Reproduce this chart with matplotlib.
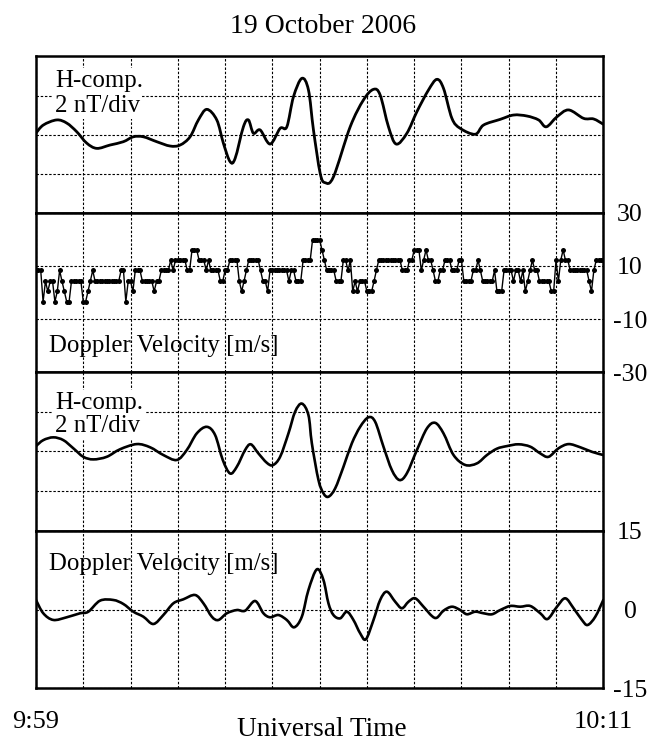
import numpy as np
import matplotlib
matplotlib.use('Agg')
import matplotlib.pyplot as plt
from matplotlib.path import Path
from matplotlib.patches import PathPatch

plt.rcParams['font.family'] = ['Liberation Serif', 'DejaVu Serif']
plt.rcParams['axes.unicode_minus'] = False

# ---------------- data (time in minutes after 09:59 UT) ----------------
h_raw_t = [0.0, 0.155, 0.438, 0.650, 0.861, 1.072, 1.285, 1.566, 1.848, 2.059,
           2.271, 2.554, 2.836, 3.048, 3.259, 3.435, 3.613, 3.824, 3.964, 4.106,
           4.212, 4.387, 4.493, 4.599, 4.741, 4.952, 5.164, 5.306, 5.446, 5.623,
           5.763, 5.869, 6.011, 6.116, 6.292, 6.646, 6.927, 7.139, 7.280, 7.456,
           7.619, 7.845, 8.057, 8.303, 8.480, 8.620, 8.798, 8.974, 9.291, 9.467,
           9.820, 10.102, 10.385, 10.631, 10.794, 11.020, 11.266, 11.583, 11.795, 12.0]
h_raw_v = [0.10, 0.51, 0.77, 0.61, 0.17, -0.41, -0.68, -0.51, -0.34, -0.09,
           -0.09, -0.34, -0.56, -0.51, -0.09, 0.77, 1.31, 0.77, -0.42, -1.36,
           -1.19, 0.42, 0.77, 0.09, 0.26, -0.46, 0.34, 0.42, 1.95, 2.89,
           2.30, 0.26, -1.95, -2.43, -2.13, 0.42, 1.79, 2.33, 2.04, 0.42,
           -0.46, 0.09, 1.19, 2.30, 2.84, 2.38, 0.85, 0.34, 0.04, 0.51,
           0.80, 1.02, 0.97, 0.77, 0.42, 0.93, 1.28, 0.85, 0.82, 0.55]

# Doppler raw samples every 3 s
dop_raw_t = np.arange(241) * 0.05
dop_raw_v = [8.3, 8.3, 8.3, -3.5, 4.2, 0.4, 4.2, 4.2, -3.5, 0.4, 8.3, 4.2, 0.4, -3.5, -3.5, 4.2, 4.2, 4.2, 4.2, 4.2,
             -3.5, -3.5, 0.4, 4.2, 8.3, 4.2, 4.2, 4.2, 4.2, 4.2, 4.2, 4.2, 4.2, 4.2, 4.2, 4.2, 8.3, 8.3, -3.5, 4.2,
             4.2, 0.4, 8.3, 8.3, 8.3, 4.2, 4.2, 4.2, 4.2, 4.2, 0.4, 4.2, 4.2, 8.3, 8.3, 8.3, 8.3, 12.1, 8.3, 12.1,
             12.1, 12.1, 12.1, 12.1, 8.3, 8.3, 16.0, 16.0, 16.0, 12.1, 12.1, 12.1, 8.3, 12.1, 8.3, 8.3, 8.3, 8.3, 4.2, 4.2,
             8.3, 8.3, 12.1, 12.1, 12.1, 12.1, 4.2, 0.4, 4.2, 8.3, 12.1, 12.1, 12.1, 12.1, 12.1, 8.3, 4.2, 4.2, 0.4, 8.3,
             8.3, 8.3, 8.3, 8.3, 8.3, 8.3, 8.3, 4.2, 8.3, 8.3, 4.2, 4.2, 4.2, 12.1, 12.1, 12.1, 12.1, 19.8, 19.8, 19.8,
             19.8, 16.0, 12.1, 8.3, 8.3, 8.3, 8.3, 4.2, 4.2, 4.2, 12.1, 12.1, 8.3, 12.1, 0.4, 4.2, 0.4, 4.2, 4.2, 4.2,
             0.4, 0.4, 0.4, 4.2, 8.3, 12.1, 12.1, 12.1, 12.1, 12.1, 12.1, 12.1, 12.1, 12.1, 12.1, 8.3, 8.3, 8.3, 12.1, 12.1,
             16.0, 16.0, 16.0, 8.3, 12.1, 16.0, 12.1, 12.1, 8.3, 4.2, 4.2, 8.3, 8.3, 12.1, 12.1, 12.1, 8.3, 8.3, 8.3, 12.1,
             12.1, 4.2, 4.2, 4.2, 4.2, 8.3, 8.3, 12.1, 8.3, 4.2, 4.2, 4.2, 4.2, 4.2, 8.3, 0.4, 0.4, 0.4, 8.3, 8.3,
             8.3, 8.3, 4.2, 8.3, 8.3, 4.2, 8.3, 0.4, 4.2, 8.3, 12.1, 8.3, 8.3, 4.2, 4.2, 4.2, 4.2, 4.2, 0.4, 0.4,
             12.1, 4.2, 12.1, 16.0, 12.1, 12.1, 8.3, 8.3, 8.3, 8.3, 8.3, 8.3, 8.3, 8.3, 4.2, 0.4, 8.3, 12.1, 12.1, 12.1,
             12.1]

h_flt_t = [0.0, 0.154, 0.366, 0.578, 0.789, 1.001, 1.213, 1.496, 1.778, 2.131,
           2.413, 2.694, 2.978, 3.189, 3.401, 3.613, 3.788, 3.951, 4.106, 4.248,
           4.423, 4.544, 4.705, 4.882, 5.010, 5.164, 5.340, 5.481, 5.623, 5.763,
           5.835, 5.975, 6.081, 6.186, 6.328, 6.504, 6.681, 6.857, 7.033, 7.175,
           7.350, 7.528, 7.689, 7.845, 8.057, 8.269, 8.444, 8.620, 8.832, 9.079,
           9.327, 9.539, 9.750, 9.962, 10.207, 10.455, 10.667, 10.842, 11.054, 11.266,
           11.513, 11.761, 12.0]
h_flt_v = [0.26, 0.56, 0.70, 0.56, 0.15, -0.28, -0.41, -0.28, 0.10, 0.36,
           0.20, -0.19, -0.44, 0.06, 0.90, 1.23, 0.82, -0.44, -1.12, -0.78,
           0.06, 0.35, -0.11, -0.58, -0.70, -0.28, 0.90, 1.99, 2.40, 1.82,
           0.40, -1.45, -2.12, -2.29, -1.87, -0.78, 0.40, 1.23, 1.71, 1.48,
           0.23, -0.95, -1.45, -1.11, 0.06, 1.15, 1.43, 0.90, -0.19, -0.69,
           -0.61, -0.19, 0.13, 0.26, 0.35, 0.23, -0.11, -0.28, 0.15, 0.36,
           0.20, -0.03, -0.19]

dop_flt_t = [0.0, 0.154, 0.366, 0.650, 0.931, 1.107, 1.354, 1.636, 1.848, 2.059,
             2.271, 2.483, 2.694, 2.906, 3.117, 3.365, 3.541, 3.719, 3.858, 4.036,
             4.248, 4.423, 4.635, 4.811, 4.952, 5.128, 5.306, 5.460, 5.623, 5.763,
             5.941, 6.080, 6.186, 6.292, 6.434, 6.576, 6.715, 6.857, 6.978, 7.139,
             7.280, 7.422, 7.598, 7.740, 7.879, 8.021, 8.197, 8.375, 8.480, 8.620,
             8.798, 8.974, 9.115, 9.291, 9.467, 9.644, 9.820, 10.032, 10.243, 10.455,
             10.667, 10.821, 11.020, 11.196, 11.372, 11.549, 11.668, 11.831, 12.0]
dop_flt_v = [1.81, -0.72, -1.99, -1.48, -0.72, -0.42, 1.68, 1.81, 1.05, -0.42,
             -1.37, -2.76, -1.05, 1.18, 1.94, 2.76, 1.18, -1.37, -2.00, -0.72,
             -0.10, -0.23, 1.62, -0.72, -1.48, -1.05, -2.00, -3.39, -1.37, 3.71,
             7.65, 5.62, 1.18, -1.05, -1.68, -0.42, -2.00, -4.53, -5.67, -2.00,
             1.81, 3.39, 1.48, 0.23, 1.48, 2.13, 0.53, -1.24, -1.56, -0.23,
             0.53, -0.10, -0.91, -0.42, -0.72, -0.91, -0.10, 0.67, 0.53, 0.67,
             -0.72, -1.81, 0.53, 2.13, 0.23, -2.00, -2.95, -1.37, 1.81]

time_labels = ['9:59', '10:11']
dop_raw_ticks = [-30, -10, 10, 30]
dop_flt_ticks = [-15, 0, 15]
h_grid = [-2, 0, 2]


def smooth_curve(ax, xs, ys, lw):
    """Draw a smooth (Catmull-Rom rendered as cubic Bezier) line through the points."""
    p = np.column_stack([np.asarray(xs, float), np.asarray(ys, float)])
    n = len(p)
    verts = [p[0]]
    codes = [Path.MOVETO]
    for i in range(n - 1):
        p0 = p[i - 1] if i > 0 else p[i]
        p1, p2 = p[i], p[i + 1]
        p3 = p[i + 2] if i + 2 < n else p[i + 1]
        c1 = p1 + (p2 - p0) / 6.0
        c2 = p2 - (p3 - p1) / 6.0
        verts += [c1, c2, p2]
        codes += [Path.CURVE4] * 3
    patch = PathPatch(Path(verts, codes), fill=False, edgecolor='black', lw=lw,
                      joinstyle='round', capstyle='round', transform=ax.transData, zorder=4)
    ax.add_patch(patch)


# ---------------- layout ----------------
W, H = 660, 742
fig = plt.figure(figsize=(W / 100, H / 100), dpi=100)
left, right = 36 / W, 603.3 / W
bounds = [56, 212.7, 372.2, 530.7, 688.3]
axes = []
for k in range(4):
    top = 1 - bounds[k] / H
    bot = 1 - bounds[k + 1] / H
    ax = fig.add_axes([left, bot, right - left, top - bot])
    axes.append(ax)

grid_kw = dict(color='black', lw=0.8, linestyle=(0, (2.2, 1.6)))
for ax in axes:
    ax.set_xticks(range(13))
    ax.grid(True, axis='both', **grid_kw)
    ax.tick_params(length=0, labelbottom=False, labelleft=False)
    for s in ax.spines.values():
        s.set_linewidth(1.8)
        s.set_color('black')

ax1, ax2, ax3, ax4 = axes

# Panel 1: raw H-component
smooth_curve(ax1, h_raw_t, h_raw_v, 2.0)
ax1.set_ylim(-3.96, 4.03)
ax1.set_yticks(h_grid)

# Panel 2: raw Doppler velocity
ax2.plot(dop_raw_t, dop_raw_v, color='black', lw=1.0, marker='o', ms=3.6,
         mew=0, mfc='black', zorder=4)
ax2.set_ylim(-30, 30)
ax2.set_yticks(dop_raw_ticks)

# Panel 3: filtered H-component
smooth_curve(ax3, h_flt_t, h_flt_v, 1.9)
ax3.set_ylim(-4.0, 3.98)
ax3.set_yticks(h_grid)

# Panel 4: filtered Doppler velocity
smooth_curve(ax4, dop_flt_t, dop_flt_v, 1.9)
ax4.set_ylim(-15, 15)
ax4.set_yticks(dop_flt_ticks)

for ax in axes:
    ax.set_xlim(0, 12)

for ax, ticks in ((ax2, dop_raw_ticks), (ax4, dop_flt_ticks)):
    ax.yaxis.tick_right()
    ax.tick_params(axis='y', labelright=True, labelleft=False, right=False,
                   length=0, pad=19.2, labelsize=18.5)
    ax.set_yticklabels([str(v) for v in ticks])
    for lab in ax.get_yticklabels():
        lab.set_horizontalalignment('center')

# bottom time labels
xlabels = [''] * 13
xlabels[0] = time_labels[0]
xlabels[-1] = time_labels[1]
ax4.set_xticklabels(xlabels)
ax4.tick_params(axis='x', labelbottom=True, pad=16.5, labelsize=19)

# panel annotations
box = dict(facecolor='white', edgecolor='none', pad=1.5)
for ax, y1, y2 in ((ax1, 0.802, 0.645), (ax3, 0.766, 0.625)):
    ax.text(0.034, y1, 'H-comp.', transform=ax.transAxes, fontsize=17.9,
            va='baseline', ha='left', bbox=box, zorder=3)
    ax.text(0.034, y2, '2 nT/div', transform=ax.transAxes, fontsize=17.9,
            va='baseline', ha='left', bbox=box, zorder=3)
ax2.text(0.0234, 0.1285, 'Doppler Velocity [m/s]', transform=ax2.transAxes,
         fontsize=17.9, va='baseline', ha='left', zorder=3)
ax4.text(0.0234, 0.7506, 'Doppler Velocity [m/s]', transform=ax4.transAxes,
         fontsize=17.9, va='baseline', ha='left', zorder=3)

fig.text(0.49, 1 - 33.3 / H, '19 October 2006', ha='center', va='baseline', fontsize=20)
fig.text(322 / W, 1 - 736 / H, 'Universal Time', ha='center', va='baseline', fontsize=19.7)

fig.savefig('out.png', dpi=100)
